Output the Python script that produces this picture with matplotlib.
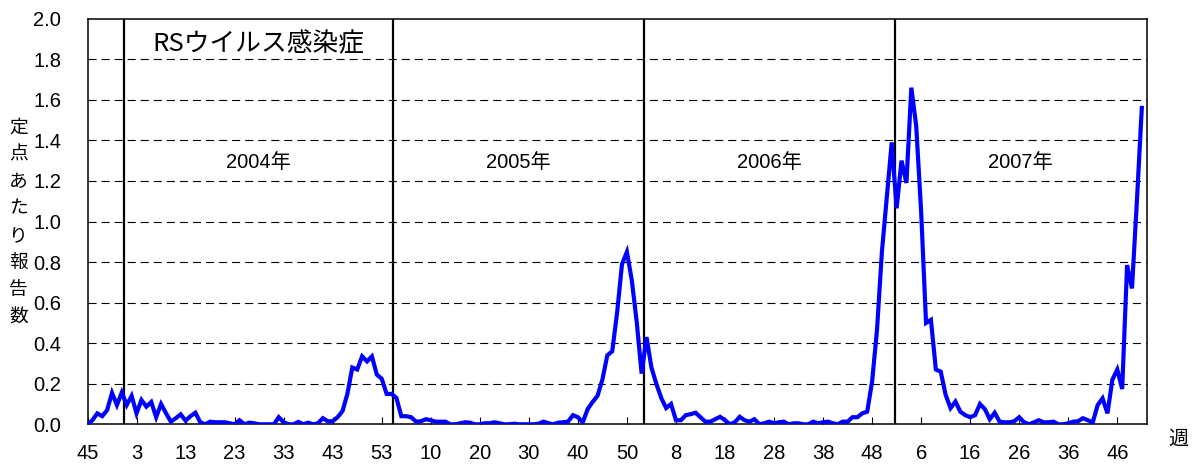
import matplotlib
matplotlib.use("Agg")
import matplotlib.pyplot as plt

plt.rcParams['font.family'] = ['Liberation Sans', 'Noto Sans CJK JP', 'DejaVu Sans']
plt.rcParams['lines.scale_dashes'] = False

# ---- data: RS virus reports per sentinel, weekly ----
weeks_2003 = list(range(45, 53))
weeks_2004 = list(range(1, 54))
weeks_2005 = list(range(1, 53))
weeks_2006 = list(range(1, 53))
weeks_2007 = list(range(1, 52))

values_2003 = [0.0, 0.02, 0.054, 0.04, 0.07, 0.155, 0.095, 0.157]
values_2004 = [0.095, 0.14, 0.054, 0.12, 0.087, 0.11, 0.035, 0.10, 0.055, 0.013,
               0.03, 0.049, 0.018, 0.04, 0.057, 0.01, 0.0, 0.013, 0.01, 0.01,
               0.01, 0.005, 0.0, 0.02, 0.0, 0.008, 0.005, 0.0, 0.0, 0.0,
               0.0, 0.035, 0.01, 0.0, 0.0, 0.012, 0.0, 0.008, 0.0, 0.005,
               0.03, 0.015, 0.015, 0.035, 0.065, 0.15, 0.28, 0.27, 0.335, 0.31,
               0.335, 0.245, 0.225]
values_2005 = [0.15, 0.15, 0.13, 0.04, 0.04, 0.035, 0.013, 0.015, 0.025, 0.02,
               0.013, 0.013, 0.013, 0.0, 0.0, 0.005, 0.01, 0.008, 0.0, 0.0,
               0.005, 0.005, 0.01, 0.005, 0.0, 0.0, 0.003, 0.0, 0.0, 0.0,
               0.0, 0.003, 0.013, 0.005, 0.0, 0.008, 0.01, 0.013, 0.045, 0.035,
               0.01, 0.075, 0.11, 0.14, 0.22, 0.34, 0.36, 0.55, 0.79, 0.85,
               0.71, 0.505]
values_2006 = [0.25, 0.43, 0.28, 0.2, 0.13, 0.08, 0.10, 0.02, 0.02, 0.045,
               0.05, 0.057, 0.035, 0.013, 0.013, 0.025, 0.037, 0.02, 0.0, 0.01,
               0.037, 0.02, 0.013, 0.025, 0.0, 0.005, 0.013, 0.005, 0.01, 0.013,
               0.0, 0.005, 0.005, 0.0, 0.0, 0.013, 0.005, 0.01, 0.013, 0.005,
               0.0, 0.013, 0.013, 0.035, 0.035, 0.054, 0.062, 0.21, 0.465, 0.85,
               1.12, 1.39]
values_2007 = [1.065, 1.30, 1.19, 1.66, 1.47, 1.05, 0.5, 0.515, 0.27, 0.26,
               0.145, 0.08, 0.112, 0.062, 0.045, 0.035, 0.045, 0.10, 0.075, 0.025,
               0.057, 0.013, 0.01, 0.01, 0.015, 0.035, 0.01, 0.0, 0.01, 0.02,
               0.01, 0.01, 0.013, 0.0, 0.0, 0.005, 0.013, 0.015, 0.03, 0.02,
               0.01, 0.095, 0.128, 0.054, 0.22, 0.27, 0.174, 0.785, 0.67, 1.1,
               1.56]

year_labels = ['2004年', '2005年', '2006年', '2007年']
title_text = 'RSウイルス感染症'
ylabel_text = '定点あたり報告数'
xlabel_text = '週'
y_ticks = [0.0, 0.2, 0.4, 0.6, 0.8, 1.0, 1.2, 1.4, 1.6, 1.8, 2.0]

# ---- assemble ----
weeks = weeks_2003 + weeks_2004 + weeks_2005 + weeks_2006 + weeks_2007 + [52]
values = values_2003 + values_2004 + values_2005 + values_2006 + values_2007
n_axis = len(weeks)  # axis spans through 2007 week 52
x = list(range(len(values)))

# year separator lines (week-index positions as drawn in the original)
year_line_pos = [7.4, 62.3, 113.4, 164.6]

W, H = 1195, 466
fig = plt.figure(figsize=(W / 100, H / 100), dpi=100)
L, R, T, B = 87.5, 1146.7, 18.7, 424.3
ax = fig.add_axes([L / W, 1 - B / H, (R - L) / W, (B - T) / H])

ax.set_xlim(0, n_axis - 1)
ax.set_ylim(0, 2.0)

for yv in y_ticks[1:-1]:
    ax.axhline(yv, color='black', lw=0.8, linestyle=(0, (5.8, 3.6)), zorder=1)

for xv in year_line_pos:
    ax.axvline(xv, color='black', lw=1.6, zorder=2)

ax.plot(x, values, color='#0000ff', lw=3.0, solid_joinstyle='miter', zorder=3)

# ticks
tick_idx = list(range(0, n_axis, 10))
ax.set_xticks(tick_idx)
ax.set_xticklabels([str(weeks[i]) for i in tick_idx])
ax.set_yticks(y_ticks)
ax.set_yticklabels([f'{v:.1f}' for v in y_ticks])
ax.tick_params(axis='x', direction='in', length=5, width=0.8, pad=14, labelsize=14.5)
ax.tick_params(axis='y', direction='in', length=0, pad=19, labelsize=14.5)

for s in ax.spines.values():
    s.set_color('black')
    s.set_linewidth(1.1)

# year labels at the centre of each year's span
bounds = year_line_pos + [n_axis - 1]
for k, lab in enumerate(year_labels):
    xc = (bounds[k] + bounds[k + 1]) / 2
    ax.text(xc, 1.293, lab, ha='center', va='center', fontsize=14.5,
            family=['Liberation Sans', 'Noto Sans CJK JP'], zorder=4)

ax.text(0.1614, 0.9376, title_text, transform=ax.transAxes, ha='center', va='center',
        fontsize=18.5, family=['Noto Sans CJK JP', 'DejaVu Sans'], zorder=4)

fig.text(18.5 / W, 1 - 221.7 / H, '\n'.join(ylabel_text), ha='center', va='center',
         fontsize=13.5, family=['Noto Sans CJK JP'], linespacing=1.38)

fig.text(1178.7 / W, 1 - 439.5 / H, xlabel_text, ha='center', va='center',
         fontsize=14.5, family=['Noto Sans CJK JP'])

fig.savefig('out.png', dpi=100)
